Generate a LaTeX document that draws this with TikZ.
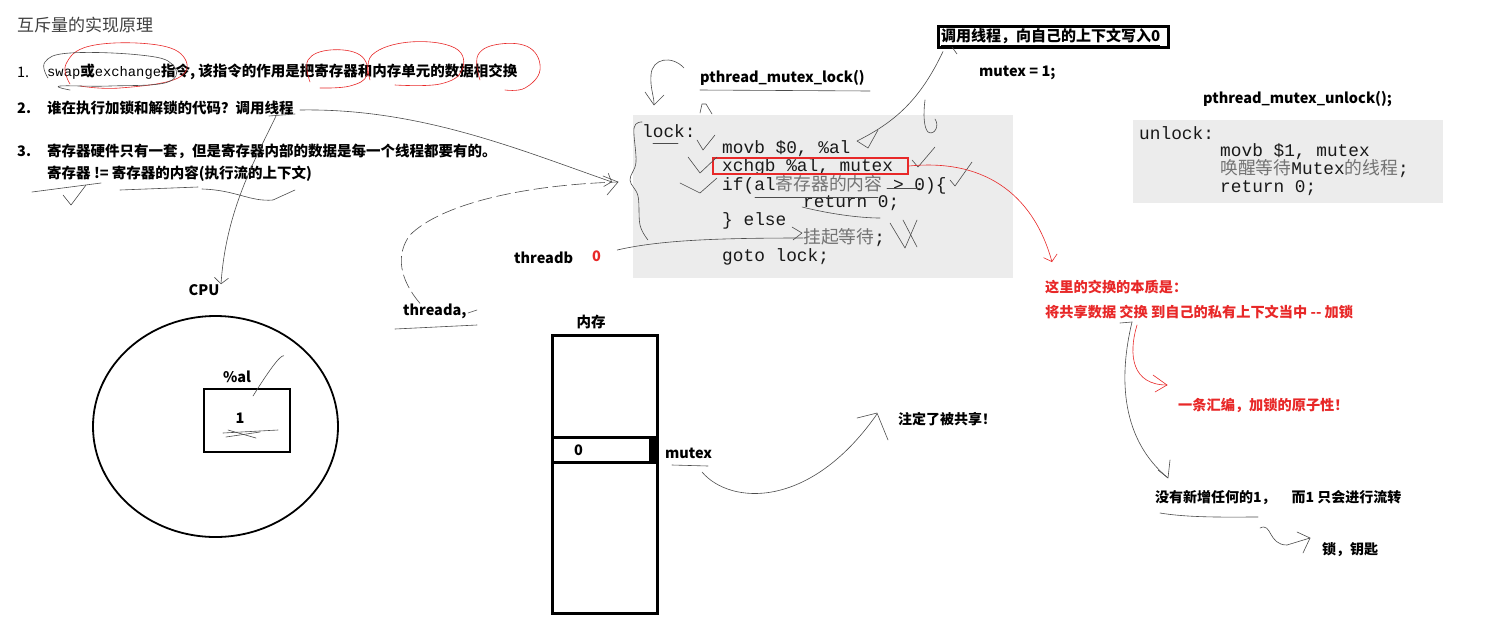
\documentclass[tikz,border=0pt]{standalone}
\usepackage{fontspec}
\setmainfont{Noto Sans CJK SC}
\newfontfamily\mono{Liberation Mono}
\usetikzlibrary{shapes.geometric,arrows.meta}
\definecolor{myred}{RGB}{232,40,40}
\definecolor{codebg}{RGB}{236,236,236}
\tikzset{
  txt/.style={anchor=west,inner sep=0pt,font=\bfseries\fontsize{14.5}{17}\selectfont},
  redtxt/.style={txt,text=myred,font=\bfseries\fontsize{14.2}{17}\selectfont},
  code/.style={anchor=west,inner sep=0pt,text=black!90,font=\mono\fontsize{17.8}{18}\selectfont},
  cbox/.style={fill=codebg,anchor=north west,inner sep=0pt},
  hand/.style={draw=black!70,line width=0.6pt,line cap=round,line join=round},
  redhand/.style={draw=myred,line width=0.6pt,line cap=round,line join=round},
  hbarb/.style={-{Straight Barb[length=6pt,width=14pt,line width=0.6pt]}}
}
\newcommand{\gz}[1]{{\color{black!55}\fontspec{Noto Sans CJK SC}#1}}
\begin{document}
\begin{tikzpicture}[x=1pt,y=-1pt]
\useasboundingbox (0,0) rectangle (1498,630);
\fill[white] (0,0) rectangle (1498,630);

% ---- left text block ----
\node[anchor=west,inner sep=0pt,text=black!75,font=\fontsize{17}{19}\selectfont] (title) at (17,25) {互斥量的实现原理};
\node[txt,font=\fontsize{14.5}{17}\selectfont] (n1) at (17,72) {1.};
\node[txt] (i1) at (47,72) {{\mono\mdseries\fontsize{13.8}{17}\selectfont swap}或{\mono\mdseries\fontsize{13.8}{17}\selectfont exchange}指令, 该指令的作用是把寄存器和内存单元的数据相交换};
\node[txt] (n2) at (17,108) {2.};
\node[txt] (i2) at (47,108) {谁在执行加锁和解锁的代码？调用线程};
\node[txt] (n3) at (17,151) {3.};
\node[txt] (i3) at (47,151) {寄存器硬件只有一套，但是寄存器内部的数据是每一个线程都要有的。};
\node[txt] (i4) at (47,174) {寄存器 != 寄存器的内容(执行流的上下文)};

% ---- lock code ----
\node[txt] (plock) at (700,78) {pthread\_mutex\_lock()};
\node[cbox,minimum width=380pt,minimum height=163pt] (lockbox) at (633,115) {};
\node[code] (c1) at (642,131) {lock:};
\node[code] (c2) at (722,149) {movb \$0, \%al};
\node[code] (c3) at (722,167) {xchgb \%al, mutex};
\node[code] (c4) at (722,185) {if(al\gz{寄存器的内容} > 0)\{};
\node[code] (c5) at (803,203) {return 0;};
\node[code] (c6) at (722,221) {\} else};
\node[code] (c7) at (803,238) {\gz{挂起等待};};
\node[code] (c8) at (722,257) {goto lock;};
\node[draw=myred,line width=2pt,anchor=north west,inner sep=0pt,minimum width=195pt,minimum height=16pt] (xbox) at (712,157) {};

% ---- top middle ----
\node[draw,line width=2.5pt,anchor=north west,inner sep=0pt,minimum width=230pt,minimum height=21pt] (callbox) at (937,25) {};
\node[txt,font=\bfseries\fontsize{15}{17}\selectfont] (calltxt) at (941,37) {\underline{调用线程，向自己的上下文写入0}};
\node[txt] (mut1) at (979,73) {mutex = 1;};

% ---- unlock code ----
\node[txt] (punlock) at (1203,99) {pthread\_mutex\_unlock();};
\node[cbox,minimum width=310pt,minimum height=83pt] (unlockbox) at (1133,120) {};
\node[code] (u1) at (1139,133) {unlock:};
\node[code] (u2) at (1220,152) {movb \$1, mutex};
\node[code] (u3) at (1220,169) {\gz{唤醒等待}Mutex\gz{的线程};};
\node[code] (u4) at (1220,188) {return 0;};

% ---- red notes ----
\node[redtxt] (r1) at (1045,287) {这里的交换的本质是：};
\node[redtxt] (r2) at (1045,312) {将共享数据 交换 到自己的私有上下文当中 -{}- 加锁};
\node[redtxt] (r3) at (1178,405) {一条汇编，加锁的原子性！};
\node[txt,font=\bfseries\fontsize{14}{17}\selectfont] (b1) at (1155,498) {没有新增任何的1，\hspace{16pt}而1 只会进行流转};
\node[txt,font=\bfseries\fontsize{14}{17}\selectfont] (b2) at (1322,550) {锁，钥匙};
\node[txt,font=\bfseries\fontsize{14}{17}\selectfont] (shared) at (898,419) {注定了被共享！};

% ---- CPU ----
\node[txt,anchor=center] (cpul) at (204,290) {CPU};
\node[draw,ellipse,line width=1.8pt,minimum width=245pt,minimum height=221pt,inner sep=0pt] (cpu) at (215.5,426.5) {};
\node[txt,anchor=center] (all) at (237,377) {\%al};
\node[draw,line width=2pt,minimum width=86pt,minimum height=63pt,inner sep=0pt] (reg) at (247,420.5) {};
\node[txt,anchor=center] (one) at (240,418) {1};

% ---- threads ----
\node[txt] (tb) at (514,258) {threadb};
\node[txt,text=myred] (tb0) at (592,256) {0};
\node[txt] (ta) at (403,311) {threada,};

% ---- memory ----
\node[txt,anchor=center] (meml) at (591,322) {内存};
\node[draw,line width=3pt,anchor=north west,inner sep=0pt,minimum width=105pt,minimum height=278pt] (mem) at (551,334) {};
\draw[line width=3pt] (mem.west |- 0,437) -- (mem.east |- 0,437);
\draw[line width=3pt] (mem.west |- 0,462) -- (mem.east |- 0,462);
\fill (649,437) rectangle (mem.east |- 0,462);
\node[txt] (zero) at (574,450) {0};
\node[txt] (mutl) at (665,453) {mutex};

% ---- hand strokes ----
% loops on item 1
\draw[redhand] plot[smooth,tension=0.7] coordinates {(70,84) (66,64) (90,46) (150,44) (183,56) (178,78) (120,88) (80,86)};
\draw[hand] plot[smooth,tension=0.7] coordinates {(48,78) (45,62) (70,53) (140,55) (172,64) (168,82) (110,86) (60,86) (70,90)};
\draw[redhand] plot[smooth,tension=0.7] coordinates {(310,82) (308,60) (330,50) (360,55) (367,75) (350,86) (320,88)};
\draw[redhand] plot[smooth,tension=0.7] coordinates {(370,80) (372,55) (410,42) (455,48) (462,70) (440,84) (395,85)};
\draw[redhand] plot[smooth,tension=0.7] coordinates {(480,80) (478,55) (500,44) (530,48) (540,70) (525,88) (505,90)};

% from 调用线程 to code
\coordinate (aS) at (300,110);
\coordinate (aE) at (612,182);
\draw[hand,hbarb] (aS) .. controls (420,108) and (520,150) .. (aE);
\draw[hand] (269,116) -- (295,114);
% to CPU
\coordinate (cS) at (276,116);
\draw[hand,hbarb] (cS) .. controls (255,160) and (226,210) .. (cpul.north -| 221,255);
% underlines line 4
\draw[hand] (32,192) -- (101,183);
\draw[hand] (63,195) -- (71,205) -- (86,185);
\draw[hand] (120,190) -- (198,187);
\draw[hand] (202,189) .. controls (236,190) and (250,202) .. (273,200) -- (295,190);

% threada dashed
\coordinate (tE) at (618,182);
\draw[hand,dash pattern=on 14pt off 5pt] (ta.north -| 420,297) .. controls (400,280) and (395,255) .. (410,235) .. controls (440,205) and (520,185) .. (tE);
\draw[hand] (603,176) -- (618,182) -- (607,195);
\draw[hand] (395,329) -- (477,325);
\draw[hand] (468,313) -- (477,310);
% threadb
\draw[hand] (tb0.east) ++(16,-6) .. controls (660,240) and (720,238) .. (c7.west);
\draw[hand] (792,227) -- (802,233) -- (793,240);

% code bracket and checks
\draw[hand] plot[smooth,tension=0.6] coordinates {(642,122) (634,128) (636,162) (630,180) (638,196) (640,225) (648,240)};
\draw[hand] (653,143) -- (678,143);
\draw[hand] (697,140) -- (703,150) -- (715,135);
\draw[hand] (688,157) -- (700,173) -- (717,157);
\draw[hand] (680,183) -- (700,193) -- (717,178);
\draw[hand] (912,160) -- (918,167) -- (935,147);
\draw[hand] (950,180) -- (955,186) -- (972,162);
\draw[hand] (890,223) -- (905,248) -- (917,220);
\draw[hand] (903,220) -- (917,247);
\draw[hand] (755,197) -- (878,197);
\draw[hand] (887,188) -- (920,188);
\draw[hand] (802,207) .. controls (830,214) and (860,218) .. (880,218);

% loop near pthread_mutex_lock
\draw[hand] (684,68) .. controls (672,55) and (652,58) .. (651,75) .. controls (650,88) and (654,96) .. (654,104);
\draw[hand] (645,92) -- (654,105) -- (664,95);
\draw[hand] (700,90) -- (870,91);
\draw[hand] (700,113) -- (702,104) -- (706,104) -- (712,114);

% from call box down to movb line
\coordinate (hE) at (857,141);
\draw[hand] (callbox.south west) ++(6,3) .. controls (920,100) and (895,122) .. (hE);
\draw[hand] (857,141) -- (868,148) -- (878,130);
\draw[hand] (952,47) -- (957,54);
\draw[hand] (925,100) .. controls (923,115) and (924,128) .. (928,132) .. controls (934,136) and (940,126) .. (935,119);

% red arrow from xchgb box
\coordinate (rE) at (1052,262);
\draw[redhand,hbarb] (xbox.east) .. controls (990,158) and (1035,200) .. (rE);

% CPU scribbles
\draw[hand] (cpu.north east) ++(-19,8) .. controls (280,355) and (268,372) .. (253,396);
\draw[hand] (223,433) -- (278,430);
\draw[hand] (226,437) -- (260,432);
\draw[hand] (228,430) -- (256,438);

% mutex arrow
\coordinate (mE) at (877,414);
\draw[hand] (672,465) -- (708,466);
\draw[hand] (702,472) .. controls (730,505) and (810,510) .. (mE);
\draw[hand] (857,418) -- (877,413) -- (888,440);

% from 交换
\coordinate (jS) at (1137,325);
\coordinate (jE) at (1167,385);
\draw[redhand] (jS) .. controls (1128,355) and (1132,385) .. (jE);
\draw[redhand] (1153,375) -- (1167,385) -- (1155,392);
\coordinate (kS) at (1132,322);
\coordinate (kE) at (1168,478);
\draw[hand] (1120,323) -- (kS);
\draw[hand] (kS) .. controls (1118,380) and (1122,440) .. (kE);
\draw[hand] (1158,470) -- (1168,478) -- (1170,460);

% bottom right
\draw[hand] (1160,513) .. controls (1190,518) and (1230,517) .. (1258,517);
\coordinate (lS) at (1260,528);
\coordinate (lE) at (1310,538);
\draw[hand] (lS) .. controls (1272,522) and (1268,545) .. (1287,545) -- (lE);
\draw[hand] (1297,532) -- (lE) -- (1303,553);
\end{tikzpicture}
\end{document}
